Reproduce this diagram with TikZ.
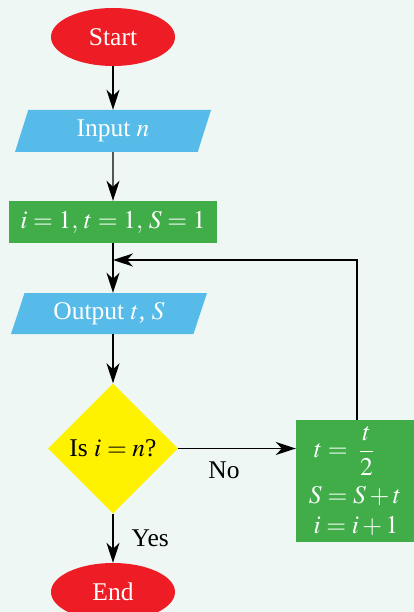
\documentclass[tikz,border=0pt]{standalone}
\usepackage{mathptmx}
\usepackage{fontspec}
\setmainfont{Liberation Serif}
\usetikzlibrary{shapes.geometric,arrows.meta}
\definecolor{bgc}{HTML}{EEF7F4}
\definecolor{redc}{HTML}{EE1C25}
\definecolor{bluec}{HTML}{56BBE8}
\definecolor{greenc}{HTML}{41AD49}
\definecolor{yellowc}{HTML}{FFF200}
\tikzset{
  terminal/.style={ellipse, fill=redc, text=white, minimum width=124pt, minimum height=58pt, inner sep=0pt},
  iobox/.style={trapezium, trapezium left angle=59, trapezium right angle=121, trapezium stretches body,
    fill=bluec, text=white, minimum width=196pt, minimum height=42pt, inner sep=0pt},
  procbox/.style={rectangle, fill=greenc, text=white, inner sep=0pt},
  decision/.style={diamond, fill=yellowc, minimum width=130pt, minimum height=130pt, inner sep=0pt, aspect=1},
  flow/.style={line width=1.4pt, -{Stealth[length=20pt,width=13pt,inset=6pt]}},
  lbl/.style={text=black, inner sep=0pt}
}
\begin{document}
\begin{tikzpicture}[x=1pt,y=-1pt,font=\fontsize{25.5}{30}\selectfont]
\fill[bgc] (0,0) rectangle (414,612);
\useasboundingbox (0,0) rectangle (414,612);
\clip (0,0) rectangle (414,612);
\node[terminal] (start) at (113,37) {Start};
\node[iobox] (input) at (113,131) {Input $n$};
\node[procbox, minimum width=208pt, minimum height=42pt] (init) at (113,222) {$i=1,\,t=1,\,S=1$};
\node[iobox, minimum width=196pt, minimum height=41pt] (output) at (109,313.5) {Output $t$, $S$};
\node[decision] (dec) at (113,448.5) {Is $i=n$?};
\node[procbox, minimum width=120pt, minimum height=122pt] (upd) at (356,481) {};
\node[text=white, anchor=center] (l1) at (344,451) {$t=\;\displaystyle\frac{t}{2}$};
\node[text=white] (l2) at (355,496) {$S=S+t$};
\node[text=white] (l3) at (356,526) {$i=i+1$};
\node[terminal] (end) at (113,592) {End};
\coordinate (join) at (113,260);
\coordinate (up) at (357,260);
\draw[flow] (start) -- (input);
\draw[flow] (input) -- (init);
\draw[flow] (init.south) -- (output.north -| init.south);
\draw[flow] (output.south -| dec.north) -- (dec.north);
\draw[flow] (dec.east) -- node[lbl, below=13pt, xshift=-13pt] (no) {No} (upd.west |- dec.east);
\draw[flow] (dec.south) -- node[lbl, right=18pt] (yes) {Yes} (end.north);
\draw[flow] (upd.north -| up) -- (up) -- (join);
\end{tikzpicture}
\end{document}
